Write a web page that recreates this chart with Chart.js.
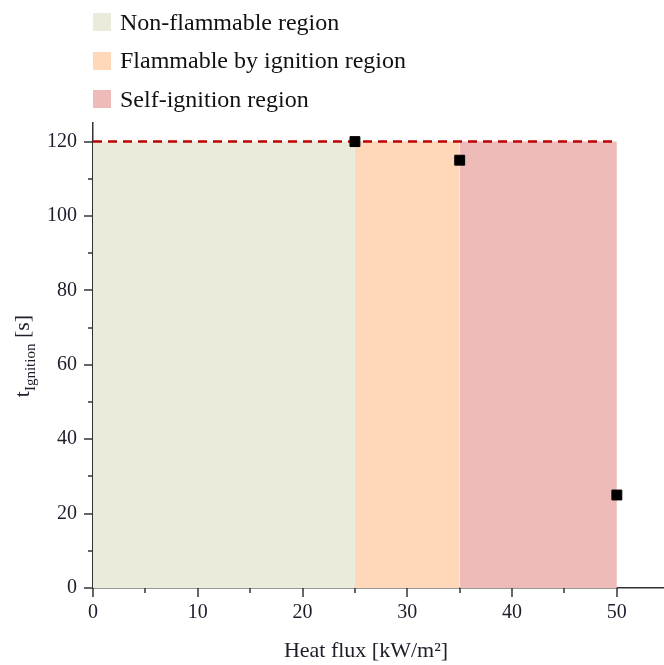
<!DOCTYPE html>
<html>
<head>
<meta charset="utf-8">
<script src="https://cdn.jsdelivr.net/npm/chart.js@4"></script>
<style>
  body { margin: 0; background: #fff; }
  #wrap { position: relative; width: 664px; height: 665px; }
  #legend { position: absolute; left: 93px; top: 3px; font-family: "Liberation Serif", serif; font-size: 24px; color: #111; }
  .item { display: flex; align-items: center; height: 38.5px; }
  .box { width: 18px; height: 18px; margin-right: 9px; }
</style>
</head>
<body>
<div id="wrap">
  <canvas id="c" width="664" height="665"></canvas>
  <div id="legend"></div>
</div>
<script>
// ignition times measured at each heat flux
const heatFlux = [25, 35, 50];
const tIgnition = [120, 115, 25];

// region bounds along heat flux, and the test time limit
const regionNames = ["Non-flammable region", "Flammable by ignition region", "Self-ignition region"];
const regionFrom = [0, 25, 35];
const regionTo = [25, 35, 50];
const regionColors = ["#ebebdc", "#fed8b9", "#eebbb9"];
const timeLimit = 120;

const xLabels = [0, 10, 20, 30, 40, 50];
const xMinor = [5, 15, 25, 35, 45];
const yLabels = [0, 20, 40, 60, 80, 100, 120];
const yMinor = [10, 30, 50, 70, 90, 110];

const serif = "'Liberation Serif', serif";
const textColor = "#1d1d2b";

// html legend, one row per region
const legend = document.getElementById("legend");
regionNames.forEach((name, i) => {
  legend.innerHTML += '<div class="item"><span class="box" style="background:' + regionColors[i] + '"></span>' + name + '</div>';
});

const regionSets = regionNames.map((name, i) => ({
  label: name,
  type: "line",
  data: [{x: regionFrom[i], y: timeLimit}, {x: regionTo[i], y: timeLimit}],
  backgroundColor: regionColors[i],
  borderWidth: 0,
  pointRadius: 0,
  fill: "origin",
  order: 3
}));

// outward tick marks and the axis titles
const axisExtras = {
  id: "axisExtras",
  afterDraw(chart) {
    const ctx = chart.ctx;
    const xs = chart.scales.x, ys = chart.scales.y;
    ctx.save();
    ctx.strokeStyle = "#333";
    ctx.lineWidth = 1.5;
    const tick = (vals, len, horiz) => {
      vals.forEach(v => {
        ctx.beginPath();
        if (horiz) {
          const p = Math.round(xs.getPixelForValue(v));
          ctx.moveTo(p, ys.bottom); ctx.lineTo(p, ys.bottom + len);
        } else {
          const p = Math.round(ys.getPixelForValue(v));
          ctx.moveTo(xs.left, p); ctx.lineTo(xs.left - len, p);
        }
        ctx.stroke();
      });
    };
    tick(xLabels, 9, true);
    tick(xMinor, 5, true);
    tick(yLabels, 9, false);
    tick(yMinor, 5, false);

    ctx.fillStyle = textColor;
    ctx.textBaseline = "alphabetic";
    // x title
    ctx.font = "22px " + serif;
    ctx.textAlign = "center";
    ctx.fillText("Heat flux [kW/m²]", 366, 657);
    // y title with subscript
    ctx.translate(29, 356);
    ctx.rotate(-Math.PI / 2);
    ctx.textAlign = "left";
    const parts = [["t", 22, 0], ["Ignition", 15, 6], [" [s]", 22, 0]];
    let w = 0;
    parts.forEach(p => { ctx.font = p[1] + "px " + serif; w += ctx.measureText(p[0]).width; });
    let x = -w / 2;
    parts.forEach(p => {
      ctx.font = p[1] + "px " + serif;
      ctx.fillText(p[0], x, p[2]);
      x += ctx.measureText(p[0]).width;
    });
    ctx.restore();
  }
};

new Chart(document.getElementById("c"), {
  type: "scatter",
  data: {
    datasets: [
      {
        label: "t ignition",
        data: heatFlux.map((h, i) => ({x: h, y: tIgnition[i]})),
        backgroundColor: "#000",
        borderColor: "#000",
        pointStyle: "rect",
        pointRadius: 7,
        pointHoverRadius: 7,
        order: 1
      },
      {
        label: "limit",
        type: "line",
        data: [{x: regionFrom[0], y: timeLimit}, {x: regionTo[2], y: timeLimit}],
        borderColor: "#c00000",
        borderWidth: 2.5,
        borderDash: [9, 6],
        pointRadius: 0,
        fill: false,
        order: 2
      },
      ...regionSets
    ]
  },
  options: {
    responsive: false,
    animation: false,
    layout: { autoPadding: false, padding: { left: 0, top: 123, right: 0, bottom: 0 } },
    plugins: { legend: { display: false }, tooltip: { enabled: false } },
    scales: {
      x: {
        type: "linear",
        min: 0,
        max: 54.5,
        afterFit: s => { s.height = 77; },
        afterBuildTicks: s => { s.ticks = xLabels.map(v => ({value: v})); },
        grid: { drawOnChartArea: false, drawTicks: false },
        border: { color: "#333", width: 1.5 },
        ticks: { padding: 13, color: textColor, font: { family: serif, size: 20 } }
      },
      y: {
        min: 0,
        max: 125,
        afterFit: s => { s.width = 93; },
        afterBuildTicks: s => { s.ticks = yLabels.map(v => ({value: v})); },
        grid: { drawOnChartArea: false, drawTicks: false },
        border: { color: "#333", width: 1.5 },
        ticks: { padding: 16, color: textColor, font: { family: serif, size: 20 } }
      }
    }
  },
  plugins: [axisExtras]
});
</script>
</body>
</html>
